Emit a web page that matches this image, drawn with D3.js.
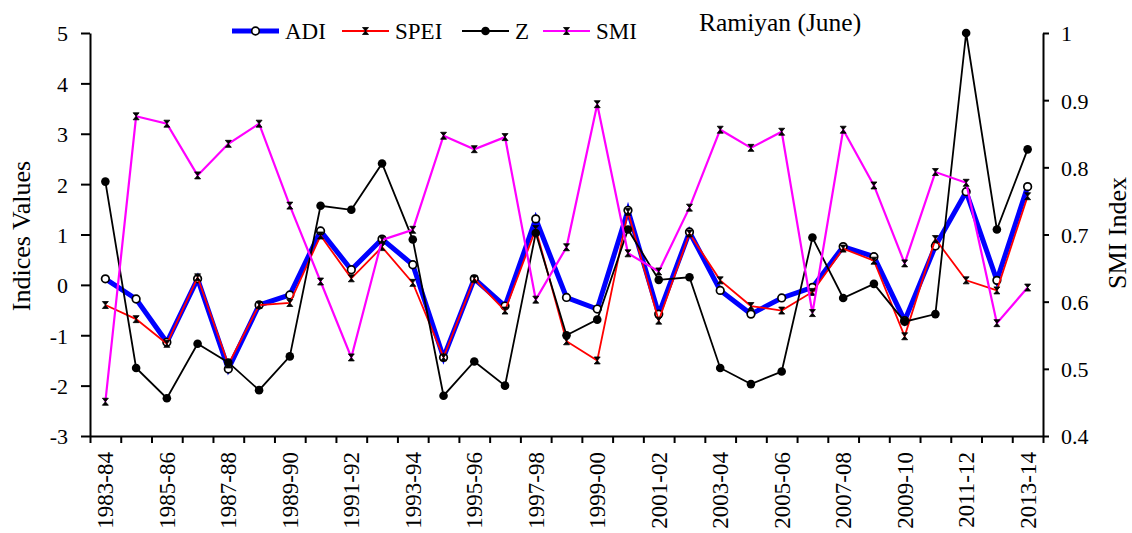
<!DOCTYPE html>
<html>
<head>
<meta charset="utf-8">
<script src="https://cdn.jsdelivr.net/npm/d3@7"></script>
<style>
  body { margin: 0; background: #fff; }
  svg { display: block; font-family: "Liberation Serif", "Times New Roman", serif; }
  svg text { font-family: "Liberation Serif", "Times New Roman", serif !important; }
</style>
</head>
<body>
<svg></svg>
<script>
const years = ['1983-84','1984-85','1985-86','1986-87','1987-88','1988-89','1989-90','1990-91',
    '1991-92','1992-93','1993-94','1994-95','1995-96','1996-97','1997-98','1998-99','1999-00',
    '2000-01','2001-02','2002-03','2003-04','2004-05','2005-06','2006-07','2007-08','2008-09',
    '2009-10','2010-11','2011-12','2012-13','2013-14'];

const adi = [0.12, -0.28, -1.14, 0.12, -1.67, -0.40, -0.20, 1.07, 0.30, 0.91, 0.40, -1.44, 0.12, -0.42, 1.31, -0.25,
    -0.48, 1.48, -0.58, 1.05, -0.11, -0.58, -0.26, -0.05, 0.76, 0.56, -0.71, 0.77, 1.85, 0.09, 1.95];
const spei = [-0.40, -0.68, -1.17, 0.15, -1.58, -0.40, -0.36, 0.98, 0.13, 0.75, 0.04, -1.44, 0.12, -0.51, 1.11, -1.12,
    -1.50, 1.45, -0.71, 1.02, 0.09, -0.42, -0.51, -0.14, 0.72, 0.48, -1.02, 0.91, 0.09, -0.11, 1.76];
const z = [2.05, -1.65, -2.25, -1.17, -1.54, -2.09, -1.42, 1.57, 1.49, 2.41, 0.90, -2.20, -1.52, -2.00, 1.03, -1.00,
    -0.69, 1.10, 0.10, 0.15, -1.65, -1.97, -1.72, 0.94, -0.26, 0.02, -0.73, -0.58, 5.00, 1.10, 2.69];
const smi = [0.451, 0.876, 0.865, 0.788, 0.835, 0.865, 0.743, 0.630, 0.517, 0.692, 0.707, 0.847, 0.827, 0.845, 0.603, 0.681,
    0.894, 0.672, 0.645, 0.740, 0.856, 0.829, 0.853, 0.583, 0.856, 0.773, 0.657, 0.793, 0.777, 0.568, 0.621];

const leftTicks = [-3, -2, -1, 0, 1, 2, 3, 4, 5];
const rightTicks = ['0.4', '0.5', '0.6', '0.7', '0.8', '0.9', '1'];

const margin = {t: 33, r: 89, b: 97, l: 90};
const size = {w: 1132, h: 533};
const serif = '"Liberation Serif", "Times New Roman", serif';
const svg = d3.select('svg')
    .attr('width', size.w)
    .attr('height', size.h);

const plot = {w: size.w - margin.l - margin.r, h: size.h - margin.t - margin.b};

const x = d3.scaleBand().domain(years).range([margin.l, margin.l + plot.w]);
const xEdge = d3.scaleLinear().domain([0, years.length]).range([margin.l, margin.l + plot.w]);
const yL = d3.scaleLinear().domain([-3, 5]).range([margin.t + plot.h, margin.t]);
const yR = d3.scaleLinear().domain([0.4, 1]).range([margin.t + plot.h, margin.t]);
const cx = d => x(d) + x.bandwidth() / 2;

// hourglass marker used by SPEI and SMI
const hourglass = 'M-3,-3.5H3L-3,3.5H3Z';

// axes
function styleAxis (g, fs) {
    g.attr('font-family', serif).attr('font-size', null);
    g.selectAll('path, line').attr('stroke', '#000').attr('stroke-width', 2);
    g.selectAll('text')
        .attr('fill', '#000')
        .style('font-family', serif)
        .style('font-size', (fs || 22) + 'px');
}

svg.append('g')
    .attr('transform', 'translate(' + margin.l + ',0)')
    .call(d3.axisLeft(yL).tickValues(leftTicks).tickFormat(d => String(d)).tickSize(9).tickSizeOuter(0).tickPadding(13))
    .call(styleAxis)
    .call(g => g.selectAll('text').attr('dy', '0.36em'));

svg.append('g')
    .attr('transform', 'translate(' + (margin.l + plot.w) + ',0)')
    .call(d3.axisRight(yR).tickValues(rightTicks.map(Number)).tickFormat((d, i) => rightTicks[i]).tickSize(6).tickSizeOuter(0).tickPadding(12))
    .call(styleAxis)
    .call(g => g.selectAll('text').attr('dy', '0.36em'));

svg.append('g')
    .attr('transform', 'translate(0,' + (margin.t + plot.h) + ')')
    .call(d3.axisBottom(xEdge).tickValues(d3.range(0, years.length + 1)).tickFormat('').tickSize(7).tickSizeOuter(0))
    .call(styleAxis);

svg.append('g')
    .attr('transform', 'translate(0,' + (margin.t + plot.h) + ')')
    .call(d3.axisBottom(x).tickValues(years.filter((d, i) => i % 2 === 0)).tickSize(0))
    .call(g => g.select('.domain').remove())
    .call(styleAxis, 23)
    .call(g => g.selectAll('text')
        .attr('transform', 'rotate(-90)')
        .attr('text-anchor', 'end')
        .attr('x', -16)
        .attr('y', 0)
        .attr('dy', '0.35em'));

// axis titles
svg.append('text')
    .attr('transform', 'translate(30,236) rotate(-90)')
    .attr('text-anchor', 'middle')
    .style('font-size', '26px')
    .text('Indices Values');

svg.append('text')
    .attr('transform', 'translate(1126,233) rotate(-90)')
    .attr('text-anchor', 'middle')
    .style('font-size', '26px')
    .text('SMI Index');

svg.append('text')
    .attr('x', 699)
    .attr('y', 31)
    .style('font-size', '25.5px')
    .text('Ramiyan (June)');

// series
const series = [
    {name: 'ADI', values: adi, scale: yL, color: '#0000ff', width: 5, marker: 'ring'},
    {name: 'SPEI', values: spei, scale: yL, color: '#ff0000', width: 1.8, marker: 'hour'},
    {name: 'Z', values: z, scale: yL, color: '#000000', width: 1.8, marker: 'dot'},
    {name: 'SMI', values: smi, scale: yR, color: '#ff00ff', width: 2.2, marker: 'hour'}
];

function drawMarker (sel, type) {
    if (type === 'ring') {
        sel.append('circle').attr('r', 3.8).attr('fill', '#fff').attr('stroke', '#000').attr('stroke-width', 1.7);
    } else if (type === 'dot') {
        sel.append('circle').attr('r', 4.3).attr('fill', '#000');
    } else {
        sel.append('path').attr('d', hourglass).attr('fill', '#000').attr('stroke', '#000').attr('stroke-width', 0.8);
    }
}

series.forEach(function (s) {
    let line = d3.line()
        .x((d, i) => cx(years[i]))
        .y(d => s.scale(d));

    let g = svg.append('g').classed('series', true);
    g.append('path')
        .datum(s.values)
        .attr('d', line)
        .attr('fill', 'none')
        .attr('stroke', s.color)
        .attr('stroke-width', s.width)
        .attr('stroke-linejoin', 'miter');

    g.selectAll('g.pt')
        .data(s.values)
        .enter()
        .append('g')
        .classed('pt', true)
        .attr('transform', (d, i) => 'translate(' + cx(years[i]) + ',' + s.scale(d) + ')')
        .each(function () { drawMarker(d3.select(this), s.marker); });
});

// legend
const legendX = [232, 342, 462, 543];
const legend = svg.append('g').classed('legend', true);
series.forEach(function (s, i) {
    let g = legend.append('g').attr('transform', 'translate(' + legendX[i] + ',31)');
    g.append('line')
        .attr('x1', 0).attr('x2', 47)
        .attr('stroke', s.color)
        .attr('stroke-width', s.width);
    drawMarker(g.append('g').attr('transform', 'translate(23.5,0)'), s.marker);
    g.append('text')
        .attr('x', 53)
        .attr('y', 8)
        .style('font-size', '23px')
        .text(s.name);
});
</script>
</body>
</html>
